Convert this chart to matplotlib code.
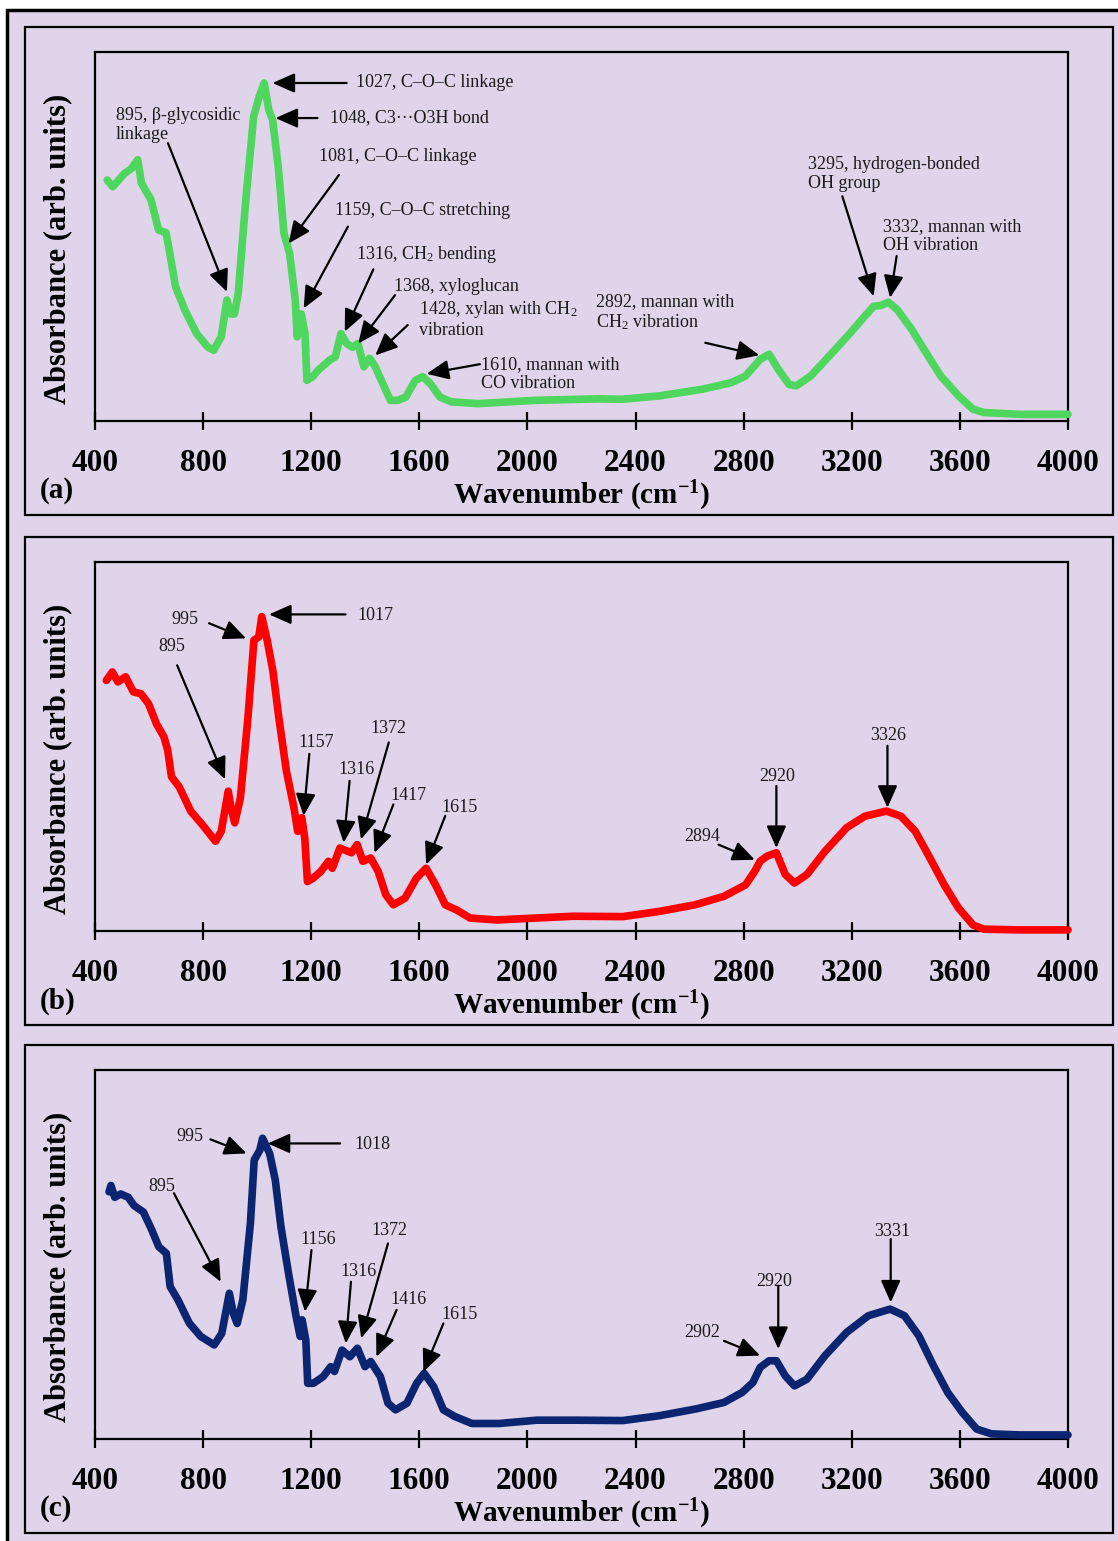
import matplotlib
matplotlib.use("Agg")
import matplotlib.pyplot as plt
from matplotlib.patches import Rectangle, FancyArrowPatch

plt.rcParams["font.family"] = ["Liberation Serif", "DejaVu Serif"]
plt.rcParams["mathtext.fontset"] = "custom"
plt.rcParams["mathtext.rm"] = "Liberation Serif"
plt.rcParams["mathtext.it"] = "Liberation Serif:italic"
plt.rcParams["mathtext.bf"] = "Liberation Serif:bold"

BG = "#E0D4EA"

# ── spectra (wavenumber, relative absorbance) ──────────────────────────
wn_a = [445, 466, 508, 536, 558, 572, 607, 635, 663, 677, 698, 733, 776, 818, 839,
        867, 888, 902, 916, 930, 958, 987, 1008, 1026, 1043, 1057, 1078, 1099, 1120,
        1141, 1148, 1163, 1177, 1184, 1205, 1226, 1268, 1289, 1310, 1331, 1352, 1373,
        1395, 1416, 1437, 1465, 1493, 1521, 1550, 1585, 1613, 1641, 1676, 1718, 1817,
        2028, 2264, 2353, 2487, 2647, 2754, 2807, 2861, 2894, 2928, 2968, 2994, 3048,
        3128, 3195, 3248, 3281, 3308, 3335, 3368, 3422, 3475, 3529, 3595, 3649, 3689,
        3822, 4000]
ab_a = [0.653, 0.635, 0.670, 0.685, 0.708, 0.644, 0.600, 0.518, 0.510, 0.454, 0.364,
        0.300, 0.237, 0.200, 0.192, 0.228, 0.328, 0.290, 0.290, 0.346, 0.600, 0.825,
        0.880, 0.916, 0.843, 0.816, 0.690, 0.509, 0.454, 0.328, 0.228, 0.290, 0.237,
        0.110, 0.120, 0.138, 0.165, 0.174, 0.237, 0.210, 0.200, 0.210, 0.147, 0.170,
        0.147, 0.101, 0.056, 0.056, 0.065, 0.110, 0.120, 0.101, 0.065, 0.052, 0.047,
        0.056, 0.060, 0.059, 0.068, 0.086, 0.104, 0.122, 0.167, 0.181, 0.140, 0.099,
        0.095, 0.122, 0.185, 0.239, 0.284, 0.311, 0.313, 0.322, 0.302, 0.248, 0.185,
        0.122, 0.068, 0.032, 0.023, 0.018, 0.018]

wn_b = [442, 464, 485, 513, 542, 570, 598, 627, 655, 669, 683, 712, 754, 796, 846,
        867, 893, 903, 917, 938, 966, 988, 1006, 1017, 1037, 1058, 1080, 1108, 1136,
        1150, 1165, 1176, 1186, 1207, 1235, 1264, 1278, 1306, 1335, 1349, 1370, 1391,
        1420, 1448, 1476, 1504, 1547, 1589, 1625, 1660, 1696, 1738, 1788, 1887, 2028,
        2170, 2353, 2487, 2620, 2727, 2807, 2841, 2861, 2887, 2921, 2954, 2988, 3034,
        3101, 3181, 3248, 3328, 3382, 3435, 3489, 3542, 3595, 3649, 3689, 3822, 4000]
ab_b = [0.679, 0.702, 0.675, 0.689, 0.648, 0.643, 0.616, 0.562, 0.526, 0.490, 0.418,
        0.390, 0.325, 0.289, 0.243, 0.270, 0.379, 0.334, 0.293, 0.361, 0.579, 0.788,
        0.797, 0.852, 0.788, 0.706, 0.579, 0.434, 0.334, 0.270, 0.307, 0.252, 0.134,
        0.143, 0.161, 0.189, 0.170, 0.225, 0.216, 0.212, 0.234, 0.189, 0.198, 0.161,
        0.098, 0.071, 0.089, 0.143, 0.170, 0.125, 0.071, 0.057, 0.035, 0.030, 0.035,
        0.040, 0.039, 0.053, 0.071, 0.094, 0.125, 0.162, 0.189, 0.203, 0.212, 0.153,
        0.130, 0.153, 0.216, 0.280, 0.311, 0.325, 0.311, 0.270, 0.198, 0.125, 0.062,
        0.016, 0.005, 0.003, 0.003]

wn_c = [452, 459, 473, 495, 523, 544, 579, 608, 636, 664, 678, 707, 749, 791, 841,
        869, 897, 912, 926, 947, 975, 989, 1010, 1020, 1046, 1067, 1088, 1116, 1144,
        1159, 1166, 1180, 1187, 1208, 1244, 1272, 1286, 1314, 1343, 1371, 1399, 1420,
        1456, 1484, 1512, 1554, 1590, 1618, 1653, 1689, 1731, 1795, 1894, 2035, 2176,
        2353, 2487, 2620, 2727, 2794, 2834, 2861, 2894, 2921, 2954, 2988, 3034, 3101,
        3181, 3261, 3342, 3395, 3448, 3502, 3555, 3609, 3662, 3716, 3822, 4000]
ab_c = [0.670, 0.687, 0.655, 0.664, 0.655, 0.633, 0.615, 0.570, 0.521, 0.503, 0.413,
        0.377, 0.314, 0.278, 0.255, 0.286, 0.395, 0.340, 0.313, 0.377, 0.585, 0.756,
        0.783, 0.815, 0.774, 0.702, 0.575, 0.449, 0.332, 0.278, 0.323, 0.268, 0.151,
        0.151, 0.169, 0.196, 0.183, 0.241, 0.223, 0.246, 0.196, 0.210, 0.169, 0.097,
        0.079, 0.097, 0.151, 0.178, 0.142, 0.079, 0.061, 0.042, 0.042, 0.051, 0.051,
        0.050, 0.063, 0.081, 0.099, 0.126, 0.153, 0.194, 0.212, 0.212, 0.171, 0.144,
        0.162, 0.226, 0.289, 0.334, 0.352, 0.334, 0.280, 0.199, 0.126, 0.072, 0.027,
        0.014, 0.011, 0.011]

# ── peak labels: text, text xy, arrow tail xy, arrow head xy, ha ─────────
labels_a = [
    ("1027, C\u2013O\u2013C linkage", (1367, 0.916), (1331, 0.916), (1057, 0.916), "left"),
    ("1048, C3\u00b7\u00b7\u00b7O3H bond", (1268, 0.821), (1223, 0.821), (1068, 0.821), "left"),
    ("1081, C\u2013O\u2013C linkage", (1229, 0.717), (1303, 0.667), (1116, 0.481), "left"),
    ("1159, C\u2013O\u2013C stretching", (1289, 0.570), (1336, 0.527), (1172, 0.305), "left"),
    ("1316, CH$_2$ bending", (1367, 0.452), (1430, 0.411), (1324, 0.242), "left"),
    ("1368, xyloglucan", (1507, 0.364), (1510, 0.341), (1374, 0.210), "left"),
    ("1428, xylan with CH$_2$\nvibration", (1599, 0.276), (1557, 0.260), (1437, 0.178), "left"),
    ("1610, mannan with\nCO vibration", (1828, 0.128), (1824, 0.154), (1627, 0.128), "left"),
    ("895, \u03b2-glycosidic\nlinkage", (477, 0.803), (670, 0.753), (888, 0.350), "left"),
    ("2892, mannan with\nCH$_2$ vibration", (2253, 0.294), (2658, 0.212), (2858, 0.178), "left"),
    ("3295, hydrogen-bonded\nOH group", (3038, 0.670), (3165, 0.609), (3281, 0.338), "left"),
    ("3332, mannan with\nOH vibration", (3315, 0.500), (3366, 0.447), (3342, 0.334), "left"),
]
labels_b = [
    ("995", (733, 0.845), (822, 0.834), (959, 0.793), "center"),
    ("1017", (1370, 0.854), (1327, 0.858), (1044, 0.858), "left"),
    ("895", (683, 0.770), (704, 0.720), (881, 0.411), "center"),
    ("1157", (1218, 0.511), (1193, 0.480), (1172, 0.312), "center"),
    ("1316", (1366, 0.439), (1342, 0.407), (1320, 0.239), "center"),
    ("1372", (1487, 0.548), (1487, 0.511), (1384, 0.248), "center"),
    ("1417", (1558, 0.366), (1504, 0.343), (1434, 0.212), "center"),
    ("1615", (1749, 0.336), (1696, 0.312), (1625, 0.180), "center"),
    ("2894", (2647, 0.257), (2707, 0.234), (2841, 0.193), "center"),
    ("2920", (2924, 0.420), (2921, 0.393), (2921, 0.225), "center"),
    ("3326", (3335, 0.530), (3332, 0.502), (3332, 0.334), "center"),
]
labels_c = [
    ("995", (752, 0.821), (827, 0.812), (961, 0.774), "center"),
    ("1018", (1359, 0.797), (1307, 0.801), (1039, 0.801), "left"),
    ("895", (646, 0.684), (692, 0.666), (865, 0.426), "center"),
    ("1156", (1227, 0.541), (1201, 0.512), (1177, 0.345), "center"),
    ("1316", (1374, 0.453), (1347, 0.426), (1328, 0.259), "center"),
    ("1372", (1488, 0.566), (1484, 0.530), (1385, 0.273), "center"),
    ("1416", (1561, 0.378), (1516, 0.350), (1441, 0.223), "center"),
    ("1615", (1749, 0.338), (1689, 0.313), (1615, 0.182), "center"),
    ("2902", (2647, 0.289), (2727, 0.266), (2861, 0.226), "center"),
    ("2920", (2912, 0.427), (2928, 0.415), (2928, 0.244), "center"),
    ("3331", (3348, 0.561), (3344, 0.542), (3344, 0.370), "center"),
]

panels = [
    ("(a)", wn_a, ab_a, "#4ED65E", labels_a, 13),
    ("(b)", wn_b, ab_b, "#FF0000", labels_b, 13),
    ("(c)", wn_c, ab_c, "#0B2570", labels_c, 13),
]

W, H = 1118, 1541
fig = plt.figure(figsize=(W / 100, H / 100), dpi=100, facecolor="white")


def fx(px):
    return px / W


def fy(py):
    return 1 - py / H


# outer frame and the three panel boxes
fig.patches.append(Rectangle((fx(7), fy(1560)), fx(1130), 1560 / H - 10 / H,
                             transform=fig.transFigure, facecolor=BG,
                             edgecolor="black", lw=2.5, zorder=0))

box_tops = [27, 537, 1045]
axes_tops = [52, 562, 1070]
axes_h = 369
ax_left, ax_right = 95, 1068

for i, (tag, wn, ab, color, labels, fs) in enumerate(panels):
    bt = box_tops[i]
    fig.patches.append(Rectangle((fx(25), fy(bt + 488)), fx(1088), 488 / H,
                                 transform=fig.transFigure, facecolor=BG,
                                 edgecolor="black", lw=1.6, zorder=1))

    at = axes_tops[i]
    ax = fig.add_axes([fx(ax_left), fy(at + axes_h), fx(ax_right - ax_left), axes_h / H])
    ax.set_zorder(3)
    ax.set_facecolor(BG)
    ax.plot(wn, ab, color=color, lw=5.5, solid_joinstyle="round",
            solid_capstyle="round", zorder=3, clip_on=False)

    ax.set_xlim(400, 4000)
    ax.set_ylim(0, 1)
    ax.set_xticks(range(400, 4001, 400))
    ax.set_yticks([])
    ax.tick_params(axis="x", direction="inout", length=13, width=1.6, pad=14,
                   labelsize=22.5)
    for lab in ax.get_xticklabels():
        lab.set_fontweight("bold")
    for sp in ax.spines.values():
        sp.set_linewidth(1.6)

    for text, txy, tail, head, ha in labels:
        ax.text(txy[0], txy[1], text, fontsize=fs, ha=ha, va="center",
                linespacing=1.15, color="#1a1a1a", zorder=4)
        ax.add_patch(FancyArrowPatch(tail, head, arrowstyle="-|>,head_length=0.9,head_width=0.4",
                                     mutation_scale=15, lw=1.6, color="black",
                                     shrinkA=0, shrinkB=0, zorder=5))

    fig.text(fx(582), fy(at + axes_h + 75), r"Wavenumber (cm$^{\mathbf{-1}}$)",
             ha="center", va="center", fontsize=21, fontweight="bold", zorder=4)
    fig.text(fx(58), fy(at + 197), "Absorbance (arb. units)", rotation=90,
             ha="center", va="center", fontsize=22, fontweight="bold", zorder=4)
    fig.text(fx(40), fy(at + axes_h + 70), tag, ha="left", va="center",
             fontsize=21, fontweight="bold", zorder=4)

fig.savefig("out.png", dpi=100, facecolor="white")
